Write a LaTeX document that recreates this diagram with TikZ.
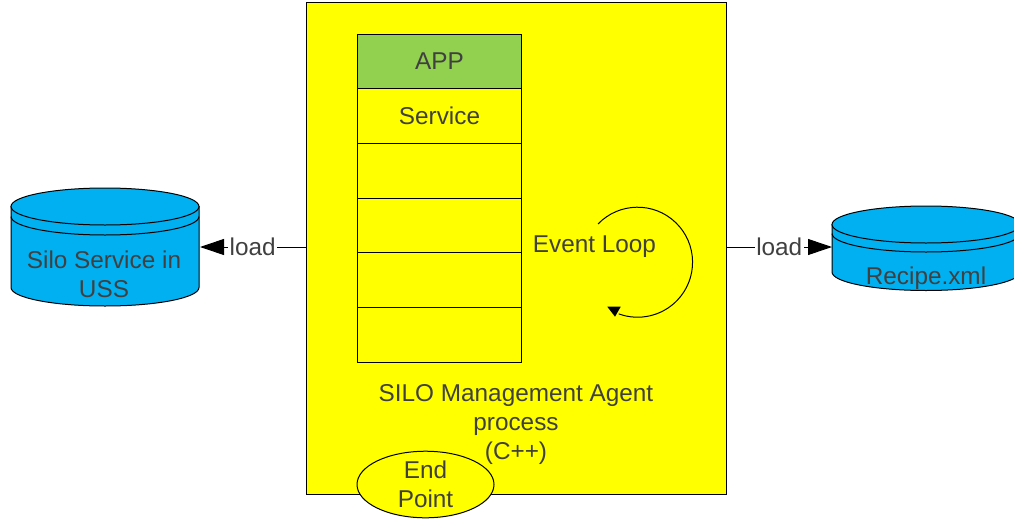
\documentclass[tikz,border=0pt]{standalone}
\usepackage{fontspec}
\setmainfont{Liberation Sans}
\usepackage{tikz}
\usetikzlibrary{shapes.geometric}
\usetikzlibrary{arrows.meta}
\definecolor{agentyellow}{RGB}{255,255,0}
\definecolor{drumblue}{RGB}{0,176,240}
\definecolor{appgreen}{RGB}{146,208,80}
\definecolor{labelgray}{RGB}{64,64,64}
\tikzset{
	every node/.style={font=\fontsize{18.25}{21.9}\selectfont, text=labelgray, inner sep=0pt},
	agentbox/.style={draw, fill=agentyellow, minimum width=315pt, minimum height=369pt},
	stackcell/.style={draw, fill=agentyellow, minimum width=123pt, minimum height=41pt},
	drum/.style={draw, fill=drumblue},
	loadlink/.style={draw, -{Triangle[length=18pt,width=12pt]}},
	loadlabel/.style={fill=white, inner xsep=1pt, inner ysep=2pt}
}

\begin{document}
\begin{tikzpicture}[x=0.75pt, y=-0.75pt, line width=0.75pt]
		\useasboundingbox (0,0) rectangle (1014,518);
		
		% the process box
		\node[agentbox] (agent) at (516,248) {};
		
		% the stack of layers
		\node[stackcell, fill=appgreen] (app) at (439.5,61.5) {APP};
		\node[stackcell] (service) at (439.5,116.17) {Service};
		\node[stackcell] (layer3) at (439.5,170.83) {};
		\node[stackcell] (layer4) at (439.5,225.5) {};
		\node[stackcell] (layer5) at (439.5,280.17) {};
		\node[stackcell] (layer6) at (439.5,334.83) {};
		
		% the loop, its arrow head drawn by hand
		\node (eventloop) at (594.5,247) {Event Loop};
		\draw (598,224) arc (-136:110:55);
		\fill[black] (607.3,306.7) -- (620.7,306.7) -- (615,316.7) -- cycle;
		
		% process caption and end point
		\node[align=center] (caption) at (516,424.5) {SILO Management Agent\\process\\(C++)};
		\node[ellipse, draw, fill=agentyellow, minimum width=102.75pt, minimum height=48.75pt, align=center] (endpoint) at (425.5,484.5) {End\\Point};
		
		% left drum
		\path[drum] (11,206.5) -- (11,287.5) arc (180:0:94 and 18.5) -- (199,206.5) -- cycle;
		\path[drum] (105,206.5) ellipse (94 and 18.5);
		\draw (11,216.5) arc (180:0:94 and 18.5);
		\node[align=center] (siloservice) at (104,274.5) {Silo Service in\\USS};
		\coordinate (siloport) at (200,247);
		
		% right drum, runs off the page
		\path[drum] (832,224.5) -- (832,272) arc (180:0:94 and 18.5) -- (1020,224.5) -- cycle;
		\path[drum] (926,224.5) ellipse (94 and 18.5);
		\draw (832,233.5) arc (180:0:94 and 18.5);
		\node (recipe) at (926,278) {Recipe.xml};
		\coordinate (recipeport) at (832,247);
		
		% the two load arrows
		\draw[loadlink] (agent.west |- siloport) -- node[loadlabel] (loadsilo) {load} (siloport);
		\draw[loadlink] (agent.east |- recipeport) -- node[loadlabel] (loadrecipe) {load} (recipeport);
	\end{tikzpicture}
\end{document}
